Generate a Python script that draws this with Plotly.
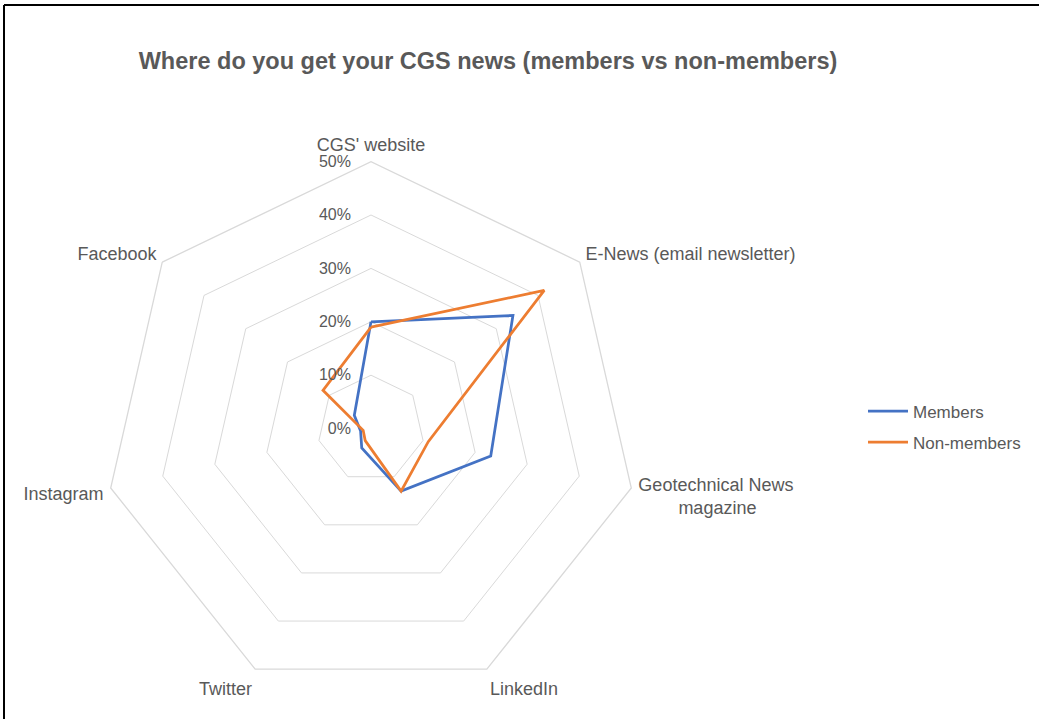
import plotly.graph_objects as go

W, H = 1039, 719

categories = ["CGS' website", "E-News (email newsletter)", "Geotechnical News<br>        magazine",
              "LinkedIn", "Twitter", "Instagram", "Facebook"]
members = [20, 34, 23, 13, 4, 2, 4]
non_members = [19, 41.5, 11, 13, 2.5, 1.5, 11.5]
radial_ticks = [0, 10, 20, 30, 40, 50]
radial_labels = ["0%", "10%", "20%", "30%", "40%", "50%"]

grey = "#595959"
font = "Liberation Sans, Arial, sans-serif"

fig = go.Figure()
for name, vals, color in [("Members", members, "#4472C4"),
                          ("Non-members", non_members, "#ED7D31")]:
    fig.add_trace(go.Scatterpolar(
        r=vals + vals[:1],
        theta=categories + categories[:1],
        mode="lines",
        name=name,
        legendgroup=name,
        line=dict(color=color, width=2.75),
    ))

# polar centre ~ (371, 428.6), radius ~267 px
cx, cy, rad = 371, 428.6, 267
fig.update_layout(
    width=W, height=H,
    margin=dict(l=0, r=0, t=0, b=0),
    paper_bgcolor="white",
    font=dict(family=font, color=grey, size=18),
    title=dict(text="<b>Where do you get your CGS news (members vs non-members)</b>",
               x=488 / W, xanchor="center", y=1 - 61 / H, yanchor="middle",
               font=dict(size=23.5, color=grey, family=font)),
    polar=dict(
        domain=dict(x=[(cx - rad) / W, (cx + rad) / W],
                    y=[(H - cy - rad) / H, (H - cy + rad) / H]),
        bgcolor="white",
        gridshape="linear",
        angularaxis=dict(direction="clockwise", rotation=90, showgrid=False,
                         linecolor="#d9d9d9", linewidth=1.3,
                         ticks="outside", ticklen=3, tickcolor="rgba(0,0,0,0)",
                         tickfont=dict(size=18, color=grey)),
        radialaxis=dict(range=[0, 50], tickvals=radial_ticks, ticktext=radial_labels,
                        angle=90, tickangle=90, showline=False,
                        ticks="outside", ticklen=14, tickcolor="rgba(0,0,0,0)",
                        side="counterclockwise",
                        gridcolor="#d9d9d9", gridwidth=1.3,
                        tickfont=dict(size=16, color=grey)),
    ),
    legend=dict(x=863 / W, y=1 - 427 / H, xanchor="left", yanchor="middle",
                font=dict(size=17, color=grey), itemwidth=40, tracegroupgap=6),
    shapes=[
        dict(type="line", xref="paper", yref="paper", x0=4 / W, x1=1, y0=1 - 5 / H, y1=1 - 5 / H,
             line=dict(color="black", width=2)),
        dict(type="line", xref="paper", yref="paper", x0=4 / W, x1=4 / W, y0=0, y1=1 - 5 / H,
             line=dict(color="black", width=2)),
    ],
)

fig.write_html("out.html", config={"displayModeBar": False},
               post_script="document.body.style.margin='0';")
